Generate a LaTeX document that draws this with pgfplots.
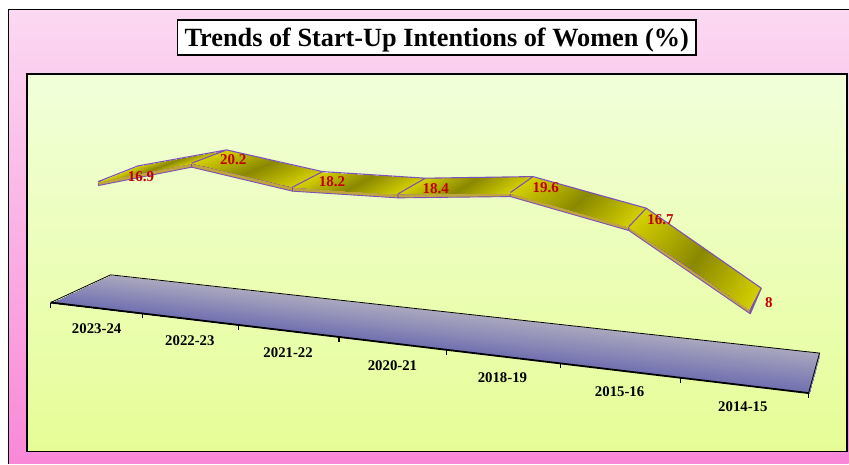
\documentclass[border=0pt]{standalone}
\usepackage{fontspec}
\setmainfont{Liberation Serif}
\usepackage{pgfplots}
\pgfplotsset{compat=1.18}
\definecolor{rib}{RGB}{124,82,184}
\definecolor{sidef}{RGB}{190,165,60}
\definecolor{pinkT}{RGB}{251,217,242}
\definecolor{pinkB}{RGB}{249,136,216}
\definecolor{greenT}{RGB}{241,255,218}
\definecolor{greenB}{RGB}{230,253,150}
\newcommand{\sidepoly}[4]{\addplot[fill=sidef,draw=rib,line width=0.9pt,line join=round] coordinates {(#1,#2) (#3,#4) (#3,#4+4) (#1,#2+4)} --cycle;}
\begin{document}
\begin{tikzpicture}
\begin{axis}[
  width=849pt,height=464pt,scale only axis,hide axis,clip=false,
  xmin=0,xmax=849,ymin=0,ymax=464,y dir=reverse,
  colormap={rib}{rgb255=(138,136,0) rgb255=(212,208,0)},
  point meta min=0,point meta max=1]
% page extent
\path[fill=white] (axis cs:0,0) rectangle (axis cs:849,464);
% backgrounds
\path[top color=pinkT,bottom color=pinkB] (axis cs:9,10) rectangle (axis cs:849,464);
\draw[black,line width=1pt] (axis cs:9,464) -- (axis cs:9,10) -- (axis cs:849,10);
\path[top color=greenT,bottom color=greenB,draw=black,line width=1.2pt] (axis cs:27,74) rectangle (axis cs:847.5,451.5);
\node[draw=black,fill=white,line width=1.2pt,minimum width=519pt,minimum height=35pt,inner sep=0pt] at (axis cs:437,37.6) {};
\node[inner sep=0pt,font=\fontsize{26.3}{30}\selectfont\bfseries] at (axis cs:437,40.5) {Trends of Start-Up Intentions of Women (\%)};
% floor
\addplot[patch,patch type=rectangle,shader=interp,point meta=explicit,
  colormap={fl}{rgb255=(110,110,176) rgb255=(170,167,190)}] table[meta=c] {
x y c
50.7 302.7 0
110.7 275 1
820 353.3 1
809 393.3 0
};
\addplot[black,line width=0.8pt] coordinates {(50.7,302.7) (110.7,275) (820,353.3) (809,393.3)};
\addplot[black,line width=1.8pt] coordinates {(50.7,302.7) (809,393.3)};
\addplot[black,line width=1.3pt,unbounded coords=jump] table[row sep=\\] {
x y\\
50.7 302.7\\ 50.7 308\\ nan nan\\
142.7 313.5\\ 142.7 318\\ nan nan\\
238.3 325\\ 238.3 330\\ nan nan\\
339.3 337\\ 339.3 342\\ nan nan\\
446.7 350\\ 446.7 355\\ nan nan\\
560.7 363.5\\ 560.7 368.5\\ nan nan\\
680.7 378\\ 680.7 383\\ nan nan\\
809 393.3\\ 809 398.5\\
};
% category labels
\addplot[only marks,mark=none,nodes near coords,point meta=explicit symbolic,
  every node near coord/.append style={anchor=center,inner sep=0pt,text=black,font=\fontsize{14.8}{16}\selectfont\bfseries}]
  table[meta=l] {
x y l
96.7 329.3 2023-24
190 341 2022-23
288.3 352.7 2021-22
392.7 365.7 2020-21
502.7 378.3 2018-19
620 391.7 2015-16
743.3 407.3 2014-15
};
% ribbon side
\sidepoly{98.3}{181.7}{191.7}{163.3}
\sidepoly{191.7}{163.3}{292.7}{187.3}
\sidepoly{292.7}{187.3}{398.3}{194}
\sidepoly{398.3}{194}{510.7}{192.7}
\sidepoly{510.7}{192.7}{629.3}{226.7}
\sidepoly{629.3}{226.7}{750.7}{310}
% ribbon top
\addplot[patch,patch type=rectangle,shader=interp,point meta=explicit] table[meta=c] {
x y c
98.3 181.7 1
138 166 1
182.35 158 0
145 172.5 0
145 172.5 0
182.35 158 0
226.7 150 1
191.7 163.3 1
191.7 163.3 1
226.7 150 1
274.7 160.85 0
242.2 175.3 0
242.2 175.3 0
274.7 160.85 0
322.7 171.7 1
292.7 187.3 1
292.7 187.3 1
322.7 171.7 1
374.1 175 0
345.5 190.65 0
345.5 190.65 0
374.1 175 0
425.5 178.3 1
398.3 194 1
398.3 194 1
425.5 178.3 1
479.4 177.5 0
454.5 193.35 0
454.5 193.35 0
479.4 177.5 0
533.3 176.7 1
510.7 192.7 1
510.7 192.7 1
533.3 176.7 1
590 192.5 0
570 209.7 0
570 209.7 0
590 192.5 0
646.7 208.3 1
629.3 226.7 1
629.3 226.7 1
646.7 208.3 1
704.2 248.35 0
690 268.35 0
690 268.35 0
704.2 248.35 0
761.7 288.3 1
750.7 310 1
};
% ribbon outlines
\addplot[rib,line width=1.1pt,line join=round,unbounded coords=jump] table[row sep=\\] {
x y\\
98.3 181.7\\ 138 166\\ 226.7 150\\ 322.7 171.7\\ 425.5 178.3\\ 533.3 176.7\\ 646.7 208.3\\ 761.7 288.3\\ 750.7 310\\ 750.7 314\\ nan nan\\
191.7 163.3\\ 226.7 150\\ nan nan\\
292.7 187.3\\ 322.7 171.7\\ nan nan\\
398.3 194\\ 425.5 178.3\\ nan nan\\
510.7 192.7\\ 533.3 176.7\\ nan nan\\
629.3 226.7\\ 646.7 208.3\\ nan nan\\
761.7 288.3\\ 750.7 314\\
};
% value labels
\addplot[only marks,mark=none,nodes near coords,point meta=explicit symbolic,
  every node near coord/.append style={anchor=center,inner sep=0pt,text={rgb,255:red,192;green,0;blue,0},font=\fontsize{15}{17}\selectfont\bfseries}]
  table[meta=l] {
x y l
141 176.5 16.9
233.3 159.8 20.2
332.3 182.2 18.2
436 188.8 18.4
546 187.8 19.6
661 219.8 16.7
769.3 302.8 8
};
\end{axis}
\end{tikzpicture}
\end{document}
